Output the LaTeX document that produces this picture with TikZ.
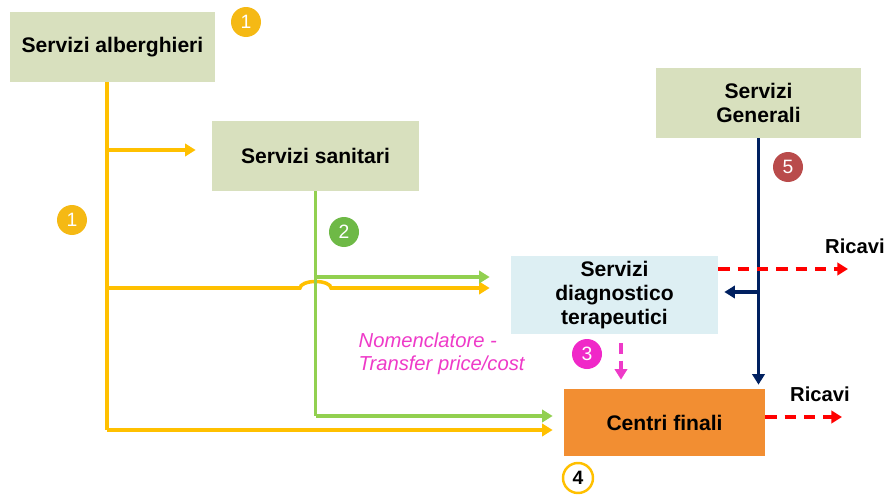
\documentclass[tikz,border=0pt]{standalone}
\usepackage{fontspec}
\setmainfont{Liberation Sans}
\usetikzlibrary{arrows.meta}
\definecolor{boxgreen}{RGB}{216,224,190}
\definecolor{boxblue}{RGB}{221,239,243}
\definecolor{boxorange}{RGB}{242,142,50}
\definecolor{lorange}{RGB}{255,192,0}
\definecolor{lgreen}{RGB}{146,208,80}
\definecolor{lblue}{RGB}{0,32,96}
\definecolor{lmagenta}{RGB}{238,58,200}
\definecolor{bgold}{RGB}{245,185,20}
\definecolor{bgreen}{RGB}{110,185,70}
\definecolor{bmagenta}{RGB}{240,40,200}
\definecolor{bred}{RGB}{185,75,75}

\begin{document}
\begin{tikzpicture}[
    font=\fontsize{11}{13}\selectfont,
    box/.style={fill=boxgreen, minimum width=4.1cm, minimum height=1.4cm, align=center, font=\fontsize{12}{13.5}\selectfont\bfseries},
    badge/.style={circle, fill=#1, text=white, inner sep=0pt, minimum size=0.6cm},
    oline/.style={draw=lorange, line width=2pt},
    gline/.style={draw=lgreen, line width=2pt},
    bline/.style={draw=lblue, line width=2pt},
    rline/.style={draw=red, line width=2pt, dash pattern=on 6.5pt off 4.5pt},
    mline/.style={draw=lmagenta, line width=2pt, dash pattern=on 6pt off 4pt},
    >={Triangle[length=6pt, width=7pt]}
  ]
    \useasboundingbox (0,0) rectangle (17.8,-9.9);

    \node[box] (alb) at (2.25,-0.94) {Servizi alberghieri};
    \node[box, minimum width=4.14cm] (san) at (6.31,-3.12) {Servizi sanitari};
    \node[box] (gen) at (15.17,-2.06) {Servizi\\Generali};
    \node[box, fill=boxblue, minimum width=4.14cm, minimum height=1.44cm] (dia) at (12.29,-5.9) {Servizi\\diagnostico\\terapeutici};
    \node[box, fill=boxorange, minimum width=4.02cm, minimum height=1.34cm] (fin) at (13.29,-8.45) {Centri finali};

    \node[badge=bgold] (b1a) at (4.92,-0.44) {1};
    \node[badge=bgold] (b1b) at (1.44,-4.4) {1};
    \node[badge=bgreen] (b2) at (6.88,-4.64) {2};
    \node[badge=bmagenta] (b3) at (11.74,-7.08) {3};
    \node[circle, draw=lorange, line width=1.4pt, fill=white, inner sep=0pt, minimum size=0.6cm, font=\fontsize{11}{13}\selectfont\bfseries] (b4) at (11.56,-9.56) {4};
    \node[badge=bred] (b5) at (15.76,-3.34) {5};

    \node[anchor=west, align=left, text=lmagenta, font=\fontsize{11.5}{13}\selectfont\itshape] (nom) at (7.05,-7.08) {Nomenclatore -\\Transfer price/cost};
    \node[font=\fontsize{11.5}{13}\selectfont\bfseries] (ric1) at (17.1,-4.92) {Ricavi};
    \node[font=\fontsize{11.5}{13}\selectfont\bfseries] (ric2) at (16.4,-7.88) {Ricavi};

    % alberghieri
    \coordinate (o1) at (2.14,-3.0);
    \coordinate (o2) at (2.14,-5.76);
    \coordinate (o3) at (2.14,-8.6);
    \draw[oline] (alb.south -| o1) -- (o3);
    \draw[oline, ->, shorten >=0.32cm] (o1) -- (o1 -| san.west);
    \draw[oline, ->, shorten >=0.42cm] (o2) -- (6.0,-5.76) arc[start angle=180, end angle=0, x radius=0.31cm, y radius=0.13cm] -- (o2 -| dia.west);
    \draw[oline, ->, shorten >=0.22cm] (o3) -- (o3 -| fin.west);

    % sanitari
    \coordinate (g1) at (6.31,-5.54);
    \coordinate (g2) at (6.31,-8.32);
    \draw[gline] (san.south) -- (g2);
    \draw[gline, ->, shorten >=0.42cm] (g1) -- (g1 -| dia.west);
    \draw[gline, ->, shorten >=0.22cm] (g2) -- (g2 -| fin.west);

    % generali
    \coordinate (n1) at (15.17,-5.84);
    \draw[bline, ->, shorten >=0.08cm] (gen.south) -- (gen.south |- fin.north);
    \draw[bline, ->, shorten >=0.12cm] (n1) -- (n1 -| dia.east);

    % ricavi
    \coordinate (r1) at (16.96,-5.38);
    \coordinate (r2) at (16.84,-8.34);
    \draw[rline, ->] (r1 -| dia.east) -- (r1);
    \draw[rline, ->] (r2 -| fin.east) -- (r2);

    % transfer
    \coordinate (m1) at (12.42,-6.86);
    \draw[mline, ->, shorten >=0.18cm] (m1) -- (m1 |- fin.north);
  \end{tikzpicture}
\end{document}
